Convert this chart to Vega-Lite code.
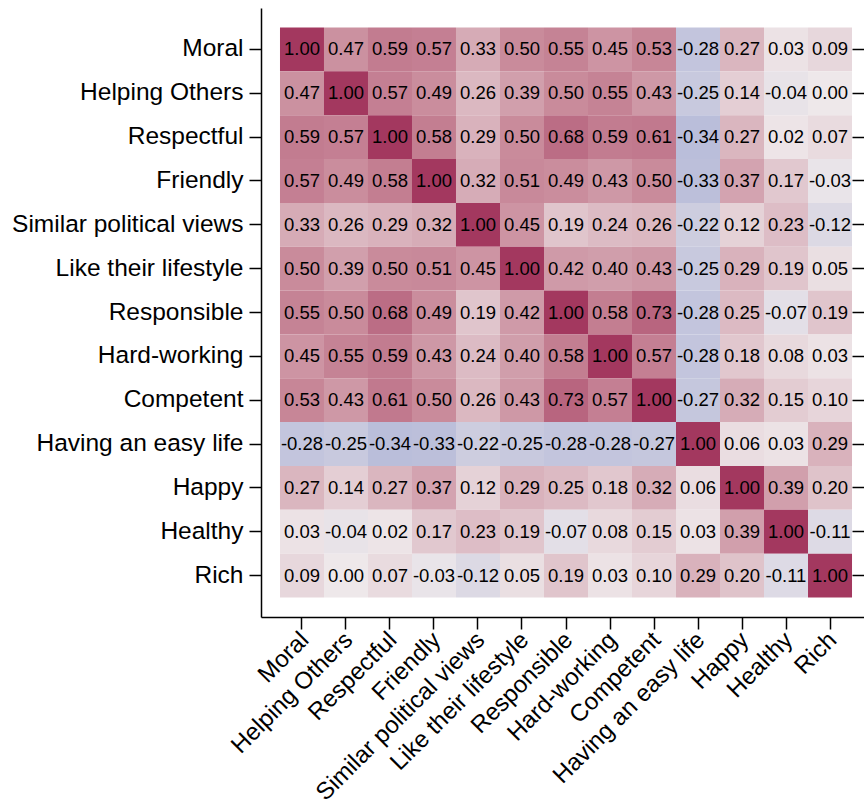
{
  "$schema": "https://vega.github.io/schema/vega-lite/v6.json",
  "autosize": {"type": "none"},
  "padding": {"left": 261, "top": 8, "right": 0, "bottom": 192},
  "width": 603,
  "height": 609,
  "config": {
    "view": {"stroke": null},
    "locale": {"number": {"decimal": ".", "thousands": ",", "grouping": [3], "currency": ["$", ""], "minus": "-"}},
    "axis": {
      "labelFont": "Liberation Sans",
      "labelFontSize": 24.5,
      "labelColor": "#000000",
      "domainColor": "#000000",
      "domainWidth": 1.5,
      "tickColor": "#000000",
      "tickWidth": 1.5,
      "tickSize": 12,
      "labelPadding": 6,
      "grid": false,
      "title": null,
      "labelLimit": 400
    }
  },
  "data": {"values": [
    {"r":"Moral","c":"Moral","v":1.00},{"r":"Moral","c":"Helping Others","v":0.47},{"r":"Moral","c":"Respectful","v":0.59},{"r":"Moral","c":"Friendly","v":0.57},{"r":"Moral","c":"Similar political views","v":0.33},{"r":"Moral","c":"Like their lifestyle","v":0.50},{"r":"Moral","c":"Responsible","v":0.55},{"r":"Moral","c":"Hard-working","v":0.45},{"r":"Moral","c":"Competent","v":0.53},{"r":"Moral","c":"Having an easy life","v":-0.28},{"r":"Moral","c":"Happy","v":0.27},{"r":"Moral","c":"Healthy","v":0.03},{"r":"Moral","c":"Rich","v":0.09},
    {"r":"Helping Others","c":"Moral","v":0.47},{"r":"Helping Others","c":"Helping Others","v":1.00},{"r":"Helping Others","c":"Respectful","v":0.57},{"r":"Helping Others","c":"Friendly","v":0.49},{"r":"Helping Others","c":"Similar political views","v":0.26},{"r":"Helping Others","c":"Like their lifestyle","v":0.39},{"r":"Helping Others","c":"Responsible","v":0.50},{"r":"Helping Others","c":"Hard-working","v":0.55},{"r":"Helping Others","c":"Competent","v":0.43},{"r":"Helping Others","c":"Having an easy life","v":-0.25},{"r":"Helping Others","c":"Happy","v":0.14},{"r":"Helping Others","c":"Healthy","v":-0.04},{"r":"Helping Others","c":"Rich","v":0.00},
    {"r":"Respectful","c":"Moral","v":0.59},{"r":"Respectful","c":"Helping Others","v":0.57},{"r":"Respectful","c":"Respectful","v":1.00},{"r":"Respectful","c":"Friendly","v":0.58},{"r":"Respectful","c":"Similar political views","v":0.29},{"r":"Respectful","c":"Like their lifestyle","v":0.50},{"r":"Respectful","c":"Responsible","v":0.68},{"r":"Respectful","c":"Hard-working","v":0.59},{"r":"Respectful","c":"Competent","v":0.61},{"r":"Respectful","c":"Having an easy life","v":-0.34},{"r":"Respectful","c":"Happy","v":0.27},{"r":"Respectful","c":"Healthy","v":0.02},{"r":"Respectful","c":"Rich","v":0.07},
    {"r":"Friendly","c":"Moral","v":0.57},{"r":"Friendly","c":"Helping Others","v":0.49},{"r":"Friendly","c":"Respectful","v":0.58},{"r":"Friendly","c":"Friendly","v":1.00},{"r":"Friendly","c":"Similar political views","v":0.32},{"r":"Friendly","c":"Like their lifestyle","v":0.51},{"r":"Friendly","c":"Responsible","v":0.49},{"r":"Friendly","c":"Hard-working","v":0.43},{"r":"Friendly","c":"Competent","v":0.50},{"r":"Friendly","c":"Having an easy life","v":-0.33},{"r":"Friendly","c":"Happy","v":0.37},{"r":"Friendly","c":"Healthy","v":0.17},{"r":"Friendly","c":"Rich","v":-0.03},
    {"r":"Similar political views","c":"Moral","v":0.33},{"r":"Similar political views","c":"Helping Others","v":0.26},{"r":"Similar political views","c":"Respectful","v":0.29},{"r":"Similar political views","c":"Friendly","v":0.32},{"r":"Similar political views","c":"Similar political views","v":1.00},{"r":"Similar political views","c":"Like their lifestyle","v":0.45},{"r":"Similar political views","c":"Responsible","v":0.19},{"r":"Similar political views","c":"Hard-working","v":0.24},{"r":"Similar political views","c":"Competent","v":0.26},{"r":"Similar political views","c":"Having an easy life","v":-0.22},{"r":"Similar political views","c":"Happy","v":0.12},{"r":"Similar political views","c":"Healthy","v":0.23},{"r":"Similar political views","c":"Rich","v":-0.12},
    {"r":"Like their lifestyle","c":"Moral","v":0.50},{"r":"Like their lifestyle","c":"Helping Others","v":0.39},{"r":"Like their lifestyle","c":"Respectful","v":0.50},{"r":"Like their lifestyle","c":"Friendly","v":0.51},{"r":"Like their lifestyle","c":"Similar political views","v":0.45},{"r":"Like their lifestyle","c":"Like their lifestyle","v":1.00},{"r":"Like their lifestyle","c":"Responsible","v":0.42},{"r":"Like their lifestyle","c":"Hard-working","v":0.40},{"r":"Like their lifestyle","c":"Competent","v":0.43},{"r":"Like their lifestyle","c":"Having an easy life","v":-0.25},{"r":"Like their lifestyle","c":"Happy","v":0.29},{"r":"Like their lifestyle","c":"Healthy","v":0.19},{"r":"Like their lifestyle","c":"Rich","v":0.05},
    {"r":"Responsible","c":"Moral","v":0.55},{"r":"Responsible","c":"Helping Others","v":0.50},{"r":"Responsible","c":"Respectful","v":0.68},{"r":"Responsible","c":"Friendly","v":0.49},{"r":"Responsible","c":"Similar political views","v":0.19},{"r":"Responsible","c":"Like their lifestyle","v":0.42},{"r":"Responsible","c":"Responsible","v":1.00},{"r":"Responsible","c":"Hard-working","v":0.58},{"r":"Responsible","c":"Competent","v":0.73},{"r":"Responsible","c":"Having an easy life","v":-0.28},{"r":"Responsible","c":"Happy","v":0.25},{"r":"Responsible","c":"Healthy","v":-0.07},{"r":"Responsible","c":"Rich","v":0.19},
    {"r":"Hard-working","c":"Moral","v":0.45},{"r":"Hard-working","c":"Helping Others","v":0.55},{"r":"Hard-working","c":"Respectful","v":0.59},{"r":"Hard-working","c":"Friendly","v":0.43},{"r":"Hard-working","c":"Similar political views","v":0.24},{"r":"Hard-working","c":"Like their lifestyle","v":0.40},{"r":"Hard-working","c":"Responsible","v":0.58},{"r":"Hard-working","c":"Hard-working","v":1.00},{"r":"Hard-working","c":"Competent","v":0.57},{"r":"Hard-working","c":"Having an easy life","v":-0.28},{"r":"Hard-working","c":"Happy","v":0.18},{"r":"Hard-working","c":"Healthy","v":0.08},{"r":"Hard-working","c":"Rich","v":0.03},
    {"r":"Competent","c":"Moral","v":0.53},{"r":"Competent","c":"Helping Others","v":0.43},{"r":"Competent","c":"Respectful","v":0.61},{"r":"Competent","c":"Friendly","v":0.50},{"r":"Competent","c":"Similar political views","v":0.26},{"r":"Competent","c":"Like their lifestyle","v":0.43},{"r":"Competent","c":"Responsible","v":0.73},{"r":"Competent","c":"Hard-working","v":0.57},{"r":"Competent","c":"Competent","v":1.00},{"r":"Competent","c":"Having an easy life","v":-0.27},{"r":"Competent","c":"Happy","v":0.32},{"r":"Competent","c":"Healthy","v":0.15},{"r":"Competent","c":"Rich","v":0.10},
    {"r":"Having an easy life","c":"Moral","v":-0.28},{"r":"Having an easy life","c":"Helping Others","v":-0.25},{"r":"Having an easy life","c":"Respectful","v":-0.34},{"r":"Having an easy life","c":"Friendly","v":-0.33},{"r":"Having an easy life","c":"Similar political views","v":-0.22},{"r":"Having an easy life","c":"Like their lifestyle","v":-0.25},{"r":"Having an easy life","c":"Responsible","v":-0.28},{"r":"Having an easy life","c":"Hard-working","v":-0.28},{"r":"Having an easy life","c":"Competent","v":-0.27},{"r":"Having an easy life","c":"Having an easy life","v":1.00},{"r":"Having an easy life","c":"Happy","v":0.06},{"r":"Having an easy life","c":"Healthy","v":0.03},{"r":"Having an easy life","c":"Rich","v":0.29},
    {"r":"Happy","c":"Moral","v":0.27},{"r":"Happy","c":"Helping Others","v":0.14},{"r":"Happy","c":"Respectful","v":0.27},{"r":"Happy","c":"Friendly","v":0.37},{"r":"Happy","c":"Similar political views","v":0.12},{"r":"Happy","c":"Like their lifestyle","v":0.29},{"r":"Happy","c":"Responsible","v":0.25},{"r":"Happy","c":"Hard-working","v":0.18},{"r":"Happy","c":"Competent","v":0.32},{"r":"Happy","c":"Having an easy life","v":0.06},{"r":"Happy","c":"Happy","v":1.00},{"r":"Happy","c":"Healthy","v":0.39},{"r":"Happy","c":"Rich","v":0.20},
    {"r":"Healthy","c":"Moral","v":0.03},{"r":"Healthy","c":"Helping Others","v":-0.04},{"r":"Healthy","c":"Respectful","v":0.02},{"r":"Healthy","c":"Friendly","v":0.17},{"r":"Healthy","c":"Similar political views","v":0.23},{"r":"Healthy","c":"Like their lifestyle","v":0.19},{"r":"Healthy","c":"Responsible","v":-0.07},{"r":"Healthy","c":"Hard-working","v":0.08},{"r":"Healthy","c":"Competent","v":0.15},{"r":"Healthy","c":"Having an easy life","v":0.03},{"r":"Healthy","c":"Happy","v":0.39},{"r":"Healthy","c":"Healthy","v":1.00},{"r":"Healthy","c":"Rich","v":-0.11},
    {"r":"Rich","c":"Moral","v":0.09},{"r":"Rich","c":"Helping Others","v":0.00},{"r":"Rich","c":"Respectful","v":0.07},{"r":"Rich","c":"Friendly","v":-0.03},{"r":"Rich","c":"Similar political views","v":-0.12},{"r":"Rich","c":"Like their lifestyle","v":0.05},{"r":"Rich","c":"Responsible","v":0.19},{"r":"Rich","c":"Hard-working","v":0.03},{"r":"Rich","c":"Competent","v":0.10},{"r":"Rich","c":"Having an easy life","v":0.29},{"r":"Rich","c":"Happy","v":0.20},{"r":"Rich","c":"Healthy","v":-0.11},{"r":"Rich","c":"Rich","v":1.00}
  ]},
  "encoding": {
    "x": {
      "field": "c", "type": "nominal",
      "scale": {"domain": ["Moral","Helping Others","Respectful","Friendly","Similar political views","Like their lifestyle","Responsible","Hard-working","Competent","Having an easy life","Happy","Healthy","Rich"], "paddingInner": 0, "paddingOuter": 0.352, "align": 0.613},
      "axis": {"orient": "bottom", "labelAngle": -45, "labelAlign": "right", "labelBaseline": "middle", "labelPadding": 7, "labelOffset": 3, "labelFontSize": 24}
    },
    "y": {
      "field": "r", "type": "nominal",
      "scale": {"domain": ["Moral","Helping Others","Respectful","Friendly","Similar political views","Like their lifestyle","Responsible","Hard-working","Competent","Having an easy life","Happy","Healthy","Rich"], "paddingInner": 0, "paddingOuter": 0.445}
    }
  },
  "layer": [
    {
      "mark": {"type": "rect"},
      "encoding": {
        "y": {"field": "r", "type": "nominal", "axis": {"orient": "left"}},
        "color": {
          "field": "v", "type": "quantitative", "legend": null,
          "scale": {"domain": [-1, -0.5, 0, 0.5, 1], "range": ["#5068b8", "#a2aad2", "#eee8ea", "#c98b9b", "#a3385f"], "interpolate": "rgb"}
        }
      }
    },
    {
      "mark": {"type": "text", "font": "Liberation Sans", "fontSize": 18.5, "color": "#000000"},
      "encoding": {
        "y": {"field": "r", "type": "nominal", "axis": {"orient": "right", "labels": false, "domain": false, "offset": -12}},
        "text": {"field": "v", "type": "quantitative", "format": ".2f"}
      }
    }
  ],
  "resolve": {"axis": {"y": "independent"}}
}
